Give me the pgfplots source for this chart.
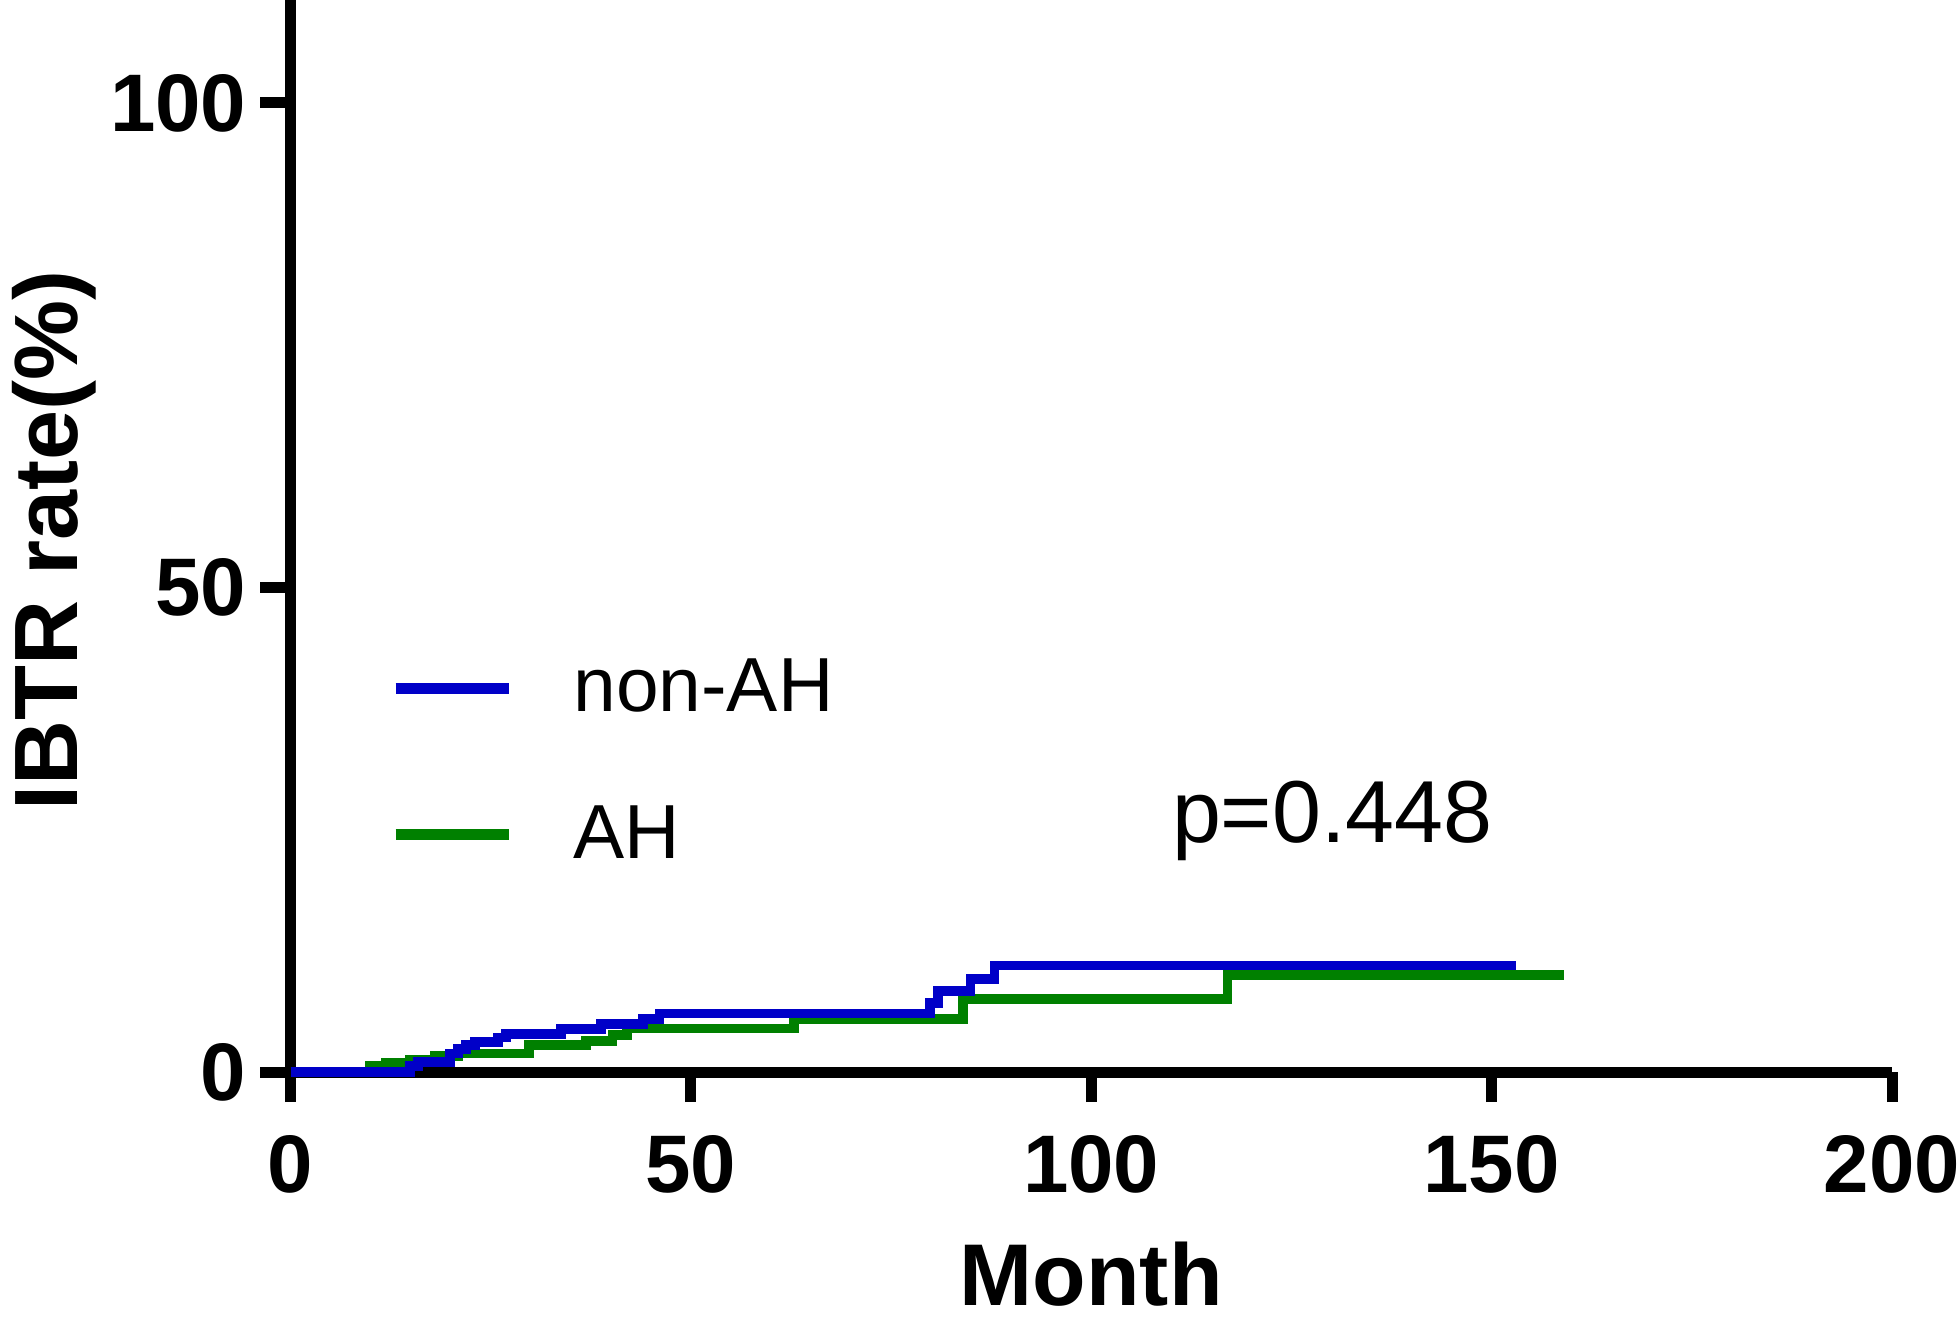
\documentclass[border=0pt]{standalone}
\usepackage{pgfplots}
\pgfplotsset{compat=1.18}
\usepackage{fontspec}
\setmainfont{Liberation Sans}
\definecolor{kmblue}{RGB}{0,0,200}
\definecolor{kmgreen}{RGB}{0,128,0}
\pgfplotstableread{
x y
0 0
14.9 0.6
15.9 1.05
19.9 1.9
20.9 2.35
21.9 2.8
23.0 3.1
25.9 3.55
26.9 3.9
33.8 4.45
38.8 4.95
44.0 5.45
46.1 6.05
79.9 7.1
80.9 8.35
84.9 9.6
87.9 11.0
153.0 11.0
}\nonah
\pgfplotstableread{
x y
0 0
9.9 0.6
11.9 0.9
14.9 1.25
18.0 1.65
21.0 1.9
29.8 2.8
36.9 3.2
40.2 3.8
42.0 4.5
62.9 5.45
84.0 7.55
117.0 10.0
159.0 10.0
}\ah
\begin{document}
\begin{tikzpicture}[x=1pt,y=1pt]
\useasboundingbox (0,0) rectangle (588,396);
\begin{axis}[
  at={(87.15pt,74.4pt)}, anchor=south west,
  width=480.45pt, height=322.7pt, scale only axis,
  xmin=0, xmax=200, ymin=0, ymax=111,
  clip=false,
  axis x line*=bottom, axis y line*=left,
  axis line style={line width=3.3pt, black},
  xtick={0,50,100,150,200}, ytick={0,50,100},
  minor tick num=0,
  tick align=outside, major tick length=9pt,
  tick style={line width=3.3pt, black},
  /pgf/number format/assume math mode=true,
  xticklabel style={font=\bfseries\fontsize{24.5}{24.5}\selectfont, anchor=north, inner sep=0pt, yshift=-9.9pt},
  yticklabel style={font=\bfseries\fontsize{24.5}{24.5}\selectfont, anchor=east, inner sep=0pt, xshift=-4.05pt},
  xlabel={Month},
  ylabel={IBTR rate(\%)},
  xlabel style={font=\bfseries\fontsize{26.3}{26.3}\selectfont, at={(axis description cs:0.5,-0.2175)}, anchor=base, inner sep=0pt},
  ylabel style={font=\bfseries\fontsize{27}{27}\selectfont, at={(axis description cs:-0.1332,0.494)}, anchor=base, inner sep=0pt, rotate=0},
  legend cell align=left,
  reverse legend,
  legend image code/.code={\draw[#1, line width=3.3pt] (0pt,0pt) -- (34.1pt,0pt);},
  legend style={at={(axis cs:12.45,42.6)}, anchor=north west, draw=none, fill=none,
    inner sep=0pt, outer sep=0pt, row sep=26.6pt,
    nodes={inner sep=0pt},
    font=\fontsize{23}{23}\selectfont,
    /tikz/every odd column/.append style={column sep=17.6pt}},
]
\addplot[const plot, kmgreen, line width=2.9pt] table[x=x,y=y] {\ah};
\addlegendentry{AH}
\addplot[const plot, kmblue, line width=2.9pt] table[x=x,y=y] {\nonah};
\addlegendentry{non-AH}
\node[anchor=base west, inner sep=0pt, font=\fontsize{26.4}{26.4}\selectfont] at (axis cs:110,23.7) {p=0.448};
\end{axis}
\end{tikzpicture}
\end{document}
